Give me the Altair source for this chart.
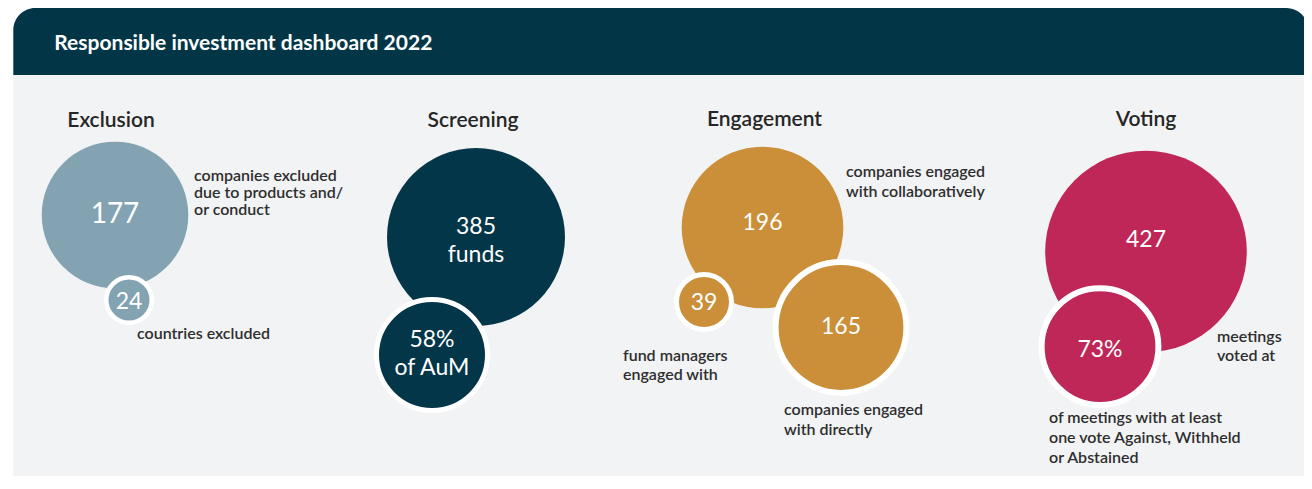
import altair as alt
import pandas as pd

# ---------------- data ----------------
title_text = "Responsible investment dashboard 2022"
sections = ["Exclusion", "Screening", "Engagement", "Voting"]
section_colors = ["#83A3B2", "#033648", "#CA8F38", "#BE2757"]

bubble_section = ["Exclusion", "Exclusion", "Screening", "Screening",
                  "Engagement", "Engagement", "Engagement", "Voting", "Voting"]
bubble_value = ["177", "24", "385", "58%", "196", "39", "165", "427", "73%"]
bubble_unit = ["", "", "funds", "of AuM", "", "", "", "", ""]
bubble_caption = [
    ["companies excluded", "due to products and/", "or conduct"],
    ["countries excluded"],
    [],
    [],
    ["companies engaged", "with collaboratively"],
    ["fund managers", "engaged with"],
    ["companies engaged", "with directly"],
    ["meetings", "voted at"],
    ["of meetings with at least", "one vote Against, Withheld", "or Abstained"],
]

# ---------------- layout (page pixel units) ----------------
W, H = 1296, 468
OX, OY = 8, 8
panel_x = [13.3, 1308.3]
header_y = [8, 75]
panel_y = [75, 489]
title_pos = (54.3, 50)
section_title_x = [111, 473, 764.5, 1146]
section_title_base = [127, 127, 126, 126]

bubble_cx = [115, 129, 476, 432, 762.5, 704, 841, 1146, 1100]
bubble_cy = [215, 300, 237, 355, 227.5, 302, 327.5, 251.5, 346.7]
bubble_r = [73.3, 22.75, 89, 55.5, 80.8, 27.5, 65.4, 100.8, 58.4]
bubble_ring = [0, 4.5, 0, 5, 0, 5, 6, 0, 6]
value_font = [28, 23, 23, 23, 23, 23, 23, 23, 23]
value_base = [223, 309, 234, 347, 230, 310, 334, 247, 357]
value_gap = 28
caption_x = [194, 137, 0, 0, 846, 623, 784, 1217, 1049]
caption_base = [181, 339, 0, 0, 177, 361, 415, 342, 423]
caption_gap = [17, 17, 0, 0, 20, 19, 20, 19, 20]

FONT = "Lato"

xs = alt.Scale(domain=[OX, OX + W], nice=False, zero=False)
ys = alt.Scale(domain=[OY, OY + H], nice=False, zero=False, reverse=True)


def X(f):
    return alt.X(f"{f}:Q", scale=xs, axis=None)


def Y(f):
    return alt.Y(f"{f}:Q", scale=ys, axis=None)


# ---------------- tables ----------------
bubbles = pd.DataFrame({
    "section": bubble_section,
    "value": bubble_value,
    "cx": bubble_cx,
    "cy": bubble_cy,
    "size": [(2 * r) ** 2 for r in bubble_r],
    "ring": bubble_ring,
    "layer": [1 if w > 0 else 0 for w in bubble_ring],
})

value_rows = []
for i, v in enumerate(bubble_value):
    lines = [v] + ([bubble_unit[i]] if bubble_unit[i] else [])
    for j, ln in enumerate(lines):
        value_rows.append({"line": ln, "x": bubble_cx[i],
                           "y": value_base[i] + j * value_gap, "fs": value_font[i]})
values_df = pd.DataFrame(value_rows)

cap_rows = []
for i, cap in enumerate(bubble_caption):
    for j, ln in enumerate(cap):
        cap_rows.append({"line": ln, "x": caption_x[i], "y": caption_base[i] + j * caption_gap[i]})
caps_df = pd.DataFrame(cap_rows)

sec_df = pd.DataFrame({"section": sections, "x": section_title_x, "y": section_title_base})
title_df = pd.DataFrame({"t": [title_text], "x": [title_pos[0]], "y": [title_pos[1]]})
panel_df = pd.DataFrame({"x": [panel_x[0]], "x2": [panel_x[1]], "y": [panel_y[0]], "y2": [panel_y[1]]})
header_df = pd.DataFrame({"x": [panel_x[0]], "x2": [panel_x[1]], "y": [header_y[0]], "y2": [header_y[1]]})

# ---------------- marks ----------------
panel = alt.Chart(panel_df).mark_rect(color="#F2F3F5").encode(
    x=X("x"), x2="x2", y=Y("y"), y2="y2")
header = alt.Chart(header_df).mark_rect(
    color="#023647", cornerRadiusTopLeft=22, cornerRadiusTopRight=22).encode(
    x=X("x"), x2="x2", y=Y("y"), y2="y2")
title = alt.Chart(title_df).mark_text(
    font=FONT, fontSize=21, fontWeight="bold", color="white", align="left", baseline="alphabetic"
).encode(x=X("x"), y=Y("y"), text="t:N")

sec_titles = alt.Chart(sec_df).mark_text(
    font=FONT, fontSize=21, fontWeight=600, color="#262626", align="center", baseline="alphabetic"
).encode(x=X("x"), y=Y("y"), text="section:N")

circles = alt.Chart(bubbles).mark_point(
    filled=True, shape="circle", opacity=1, fillOpacity=1, strokeOpacity=1, stroke="white"
).encode(
    x=X("cx"), y=Y("cy"),
    size=alt.Size("size:Q", scale=None),
    strokeWidth=alt.StrokeWidth("ring:Q", scale=None),
    color=alt.Color("section:N", scale=alt.Scale(domain=sections, range=section_colors), legend=None),
    order=alt.Order("layer:Q"),
)

value_text = alt.Chart(values_df).mark_text(
    font=FONT, color="white", align="center", baseline="alphabetic"
).encode(x=X("x"), y=Y("y"), text="line:N", size=alt.Size("fs:Q", scale=None))

captions = alt.Chart(caps_df).mark_text(
    font=FONT, fontSize=16, fontWeight=600, color="#2E2E2E", align="left", baseline="alphabetic"
).encode(x=X("x"), y=Y("y"), text="line:N")

chart = alt.layer(panel, header, title, sec_titles, circles, value_text, captions).properties(
    width=W, height=H, padding=0, autosize=alt.AutoSizeParams(type="none"), background="white"
).configure_view(stroke=None)

chart.save("out.html", embed_options={"renderer": "svg", "actions": False})
